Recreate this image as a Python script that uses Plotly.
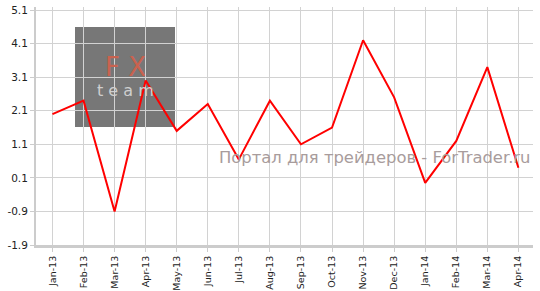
import plotly.graph_objects as go

months = ["Jan-13", "Feb-13", "Mar-13", "Apr-13", "May-13", "Jun-13", "Jul-13", "Aug-13",
          "Sep-13", "Oct-13", "Nov-13", "Dec-13", "Jan-14", "Feb-14", "Mar-14", "Apr-14"]
values = [2.0, 2.4, -0.9, 3.0, 1.5, 2.3, 0.65, 2.4, 1.1, 1.6, 4.2, 2.5, -0.05, 1.2, 3.4, 0.4]
y_ticks = [-1.9, -0.9, 0.1, 1.1, 2.1, 3.1, 4.1, 5.1]
y_tick_labels = ["-1.9", "-0.9", "0.1", "1.1", "2.1", "3.1", "4.1", "5.1"]
watermark = "Портал для трейдеров - ForTrader.ru"

fig = go.Figure()
fig.add_trace(go.Scatter(
    x=list(range(len(months))), y=values, mode="lines",
    line=dict(color="#ff0000", width=2), hoverinfo="skip", showlegend=False,
))

font = "DejaVu Sans, Verdana, sans-serif"

fig.update_layout(
    width=540, height=291,
    margin=dict(l=36, r=7, t=7, b=46),
    paper_bgcolor="white", plot_bgcolor="white",
    xaxis=dict(
        range=[-0.53, 15.47], automargin=False,
        tickmode="array", tickvals=list(range(len(months))), ticktext=months,
        tickangle=-90, tickfont=dict(family=font, size=9.5, color="#222"),
        showgrid=True, gridcolor="#d2d2d2", gridwidth=1,
        showline=True, linecolor="#cccccc", linewidth=3,
        ticks="outside", ticklen=4, tickcolor="#cccccc",
        zeroline=False, fixedrange=True,
    ),
    yaxis=dict(
        range=[-1.9, 5.19], automargin=False,
        tickmode="array", tickvals=y_ticks, ticktext=y_tick_labels,
        tickfont=dict(family=font, size=10.5, color="#222"),
        showgrid=True, gridcolor="#d2d2d2", gridwidth=1,
        showline=True, linecolor="#cccccc", linewidth=2,
        ticks="outside", ticklen=4, tickcolor="#cccccc",
        zeroline=False, fixedrange=True,
    ),
    shapes=[dict(
        type="rect", xref="paper", yref="paper",
        x0=(75 - 36) / 497, x1=(175 - 36) / 497,
        y0=(245 - 127) / 238, y1=(245 - 27) / 238,
        fillcolor="#777777", line=dict(width=0), layer="below",
    )],
    annotations=[
        dict(text="F X", xref="paper", yref="paper",
             x=(125 - 36) / 497, y=(245 - 67) / 238, xanchor="center", yanchor="middle",
             showarrow=False, font=dict(family="DejaVu Sans", size=26, color="#c9624f")),
        dict(text="t e a m", xref="paper", yref="paper",
             x=(125 - 36) / 497, y=(245 - 91) / 238, xanchor="center", yanchor="middle",
             showarrow=False, font=dict(family="DejaVu Sans", size=16, color="#cfcfcf")),
        dict(text=watermark, xref="paper", yref="paper",
             x=(533 - 36) / 497, y=(245 - 157) / 238, xanchor="right", yanchor="middle",
             showarrow=False, font=dict(family=font, size=16.4, color="#a89c9c")),
    ],
)

fig.write_html("out.html")
